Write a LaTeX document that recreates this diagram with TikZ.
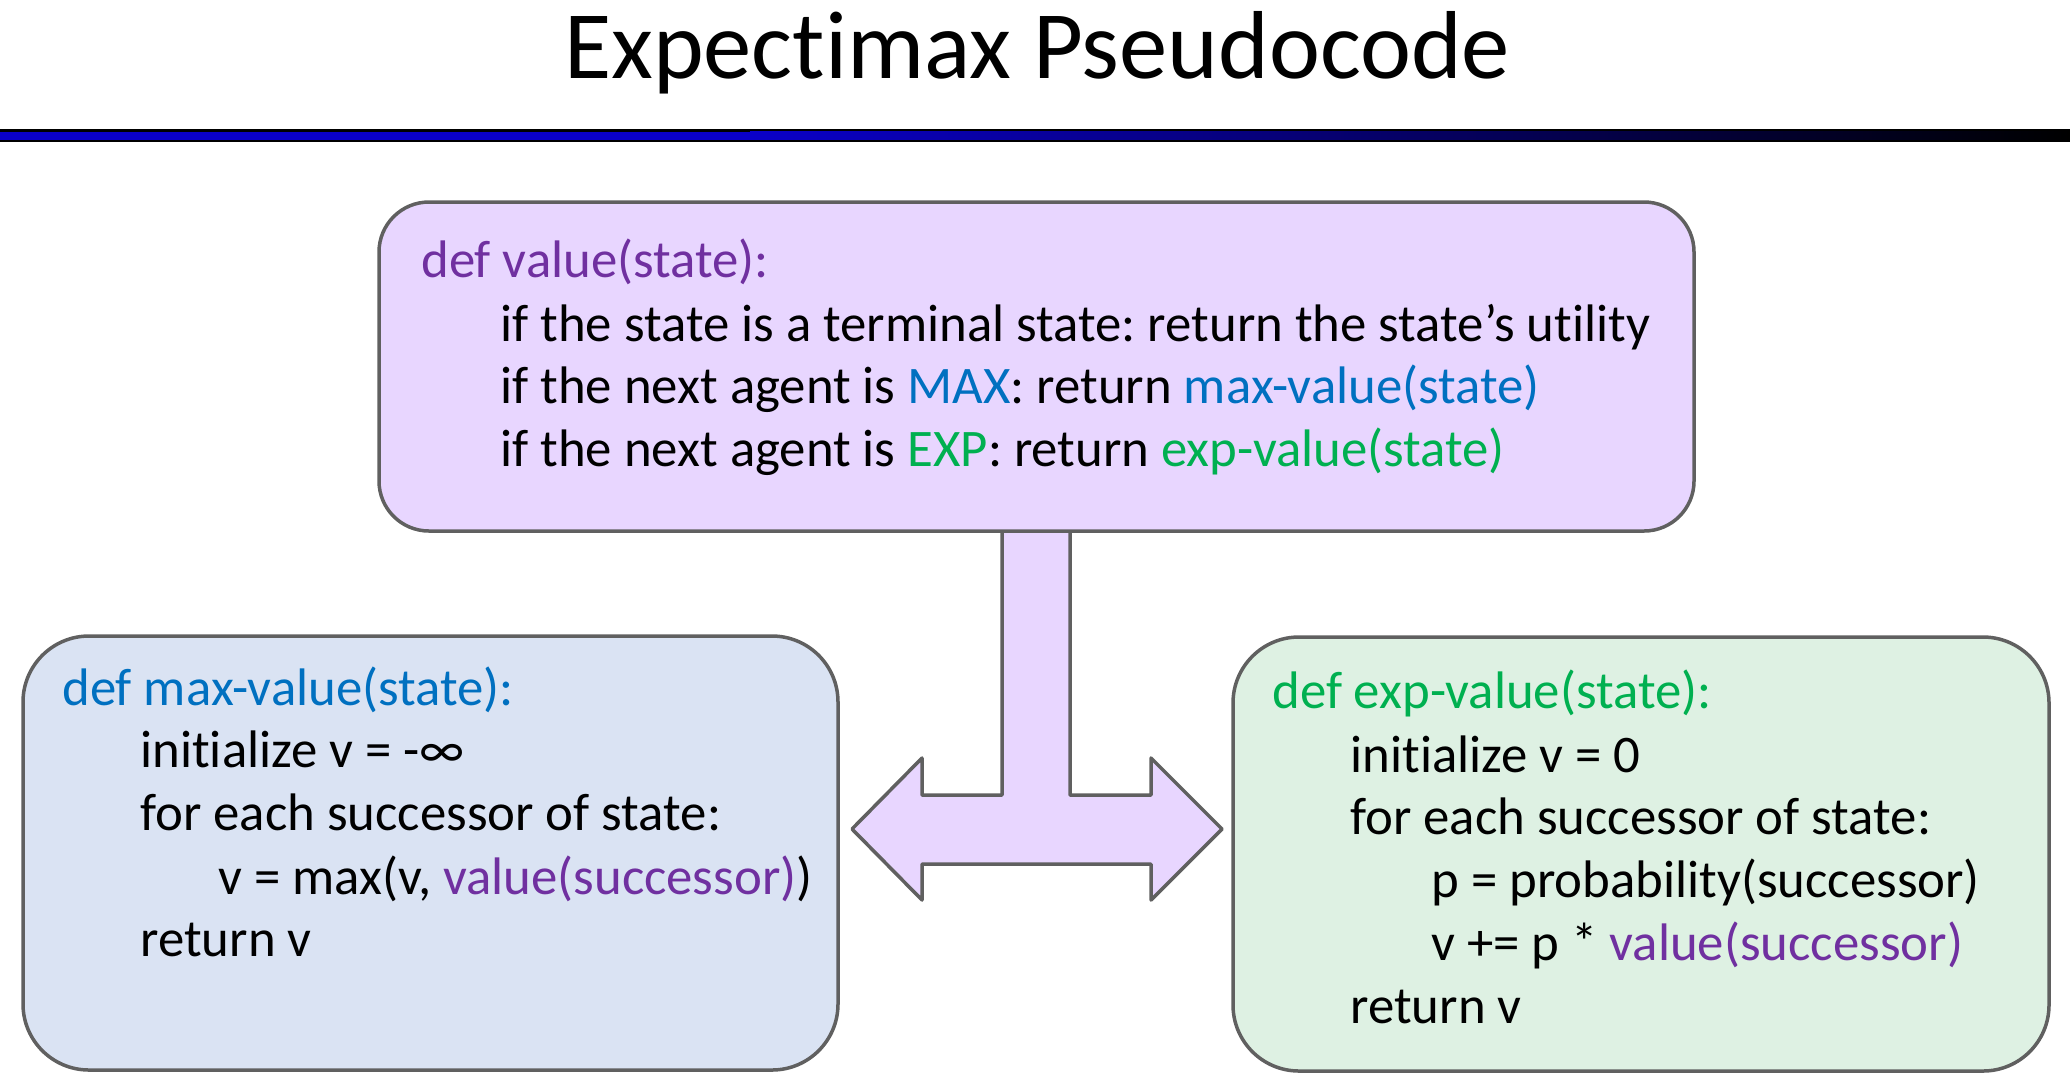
\documentclass[tikz,border=0pt]{standalone}
\usepackage{fontspec}
\setmainfont{Carlito}[Ligatures={NoCommon,NoRequired,NoContextual}]
\definecolor{boxgray}{RGB}{96,96,96}
\definecolor{lavender}{RGB}{232,214,255}
\definecolor{lightblue}{RGB}{218,227,243}
\definecolor{lightgreen}{RGB}{222,241,227}
\definecolor{cpurple}{RGB}{112,48,160}
\definecolor{cblue}{RGB}{0,112,192}
\definecolor{cgreen}{RGB}{0,176,80}
\definecolor{barblue}{RGB}{10,0,200}
\frenchspacing
\begin{document}
\begin{tikzpicture}[x=0.5pt,y=-0.5pt,
  box/.style={draw=boxgray, line width=1.75pt, inner sep=0pt},
  codeline/.style={anchor=base west, inner sep=0pt, font=\fontsize{26.4}{32}\selectfont},
  titletext/.style={anchor=base, inner sep=0pt, font=\fontsize{48.3}{58}\selectfont}]
\useasboundingbox (0,0) rectangle (2070,1084);
% title
\node[titletext] (title) at (1037,78) {Expectimax Pseudocode};
% bar
\fill[black] (0,129) rectangle (2070,142);
\fill[barblue] (0,131.5) rectangle (751,139.5);
\shade[left color=barblue, right color=black] (750,131.5) rectangle (2070,139.5);
% arrow shape
\draw[fill=lavender, draw=boxgray, line width=1.75pt, line join=round]
  (1002,520) -- (1002,795) -- (922,795) -- (922,758) -- (852,829) -- (922,900) -- (922,864)
  -- (1151,864) -- (1151,900) -- (1222,829) -- (1151,758) -- (1151,795) -- (1070,795) -- (1070,520) -- cycle;
% boxes
\node[box, fill=lavender, rounded corners=25pt, minimum width=657.5pt, minimum height=164.5pt] (top) at (1036.5,366.5) {};
\node[box, fill=lightblue, rounded corners=33pt, minimum width=407.5pt, minimum height=217pt] (left) at (430.5,853) {};
\node[box, fill=lightgreen, rounded corners=33pt, minimum width=408pt, minimum height=217pt] (right) at (1641,854) {};
% top box text
\node[codeline, text=cpurple] (t1) at (421,277) {def value(state):};
\node[codeline] (t2) at (500,341) {if the state is a terminal state: return the state’s utility};
\node[codeline] (t3) at (500,403) {if the next agent is \textcolor{cblue}{MAX}: return \textcolor{cblue}{max-value(state)}};
\node[codeline] (t4) at (500,466) {if the next agent is \textcolor{cgreen}{EXP}: return \textcolor{cgreen}{exp-value(state)}};
% left box text
\node[codeline, text=cblue] (l1) at (62,705) {def max-value(state):};
\node[codeline] (l2) at (140,767) {initialize v = -∞};
\node[codeline] (l3) at (140,830) {for each successor of state:};
\node[codeline] (l4) at (218,894) {v = max(v, \textcolor{cpurple}{value(successor)})};
\node[codeline] (l5) at (140,956) {return v};
% right box text
\node[codeline, text=cgreen] (r1) at (1272,708) {def exp-value(state):};
\node[codeline] (r2) at (1350,772) {initialize v = 0};
\node[codeline] (r3) at (1350,834) {for each successor of state:};
\node[codeline] (r4) at (1431,897) {p = probability(successor)};
\node[codeline] (r5) at (1431,960) {v += p * \textcolor{cpurple}{value(successor)}};
\node[codeline] (r6) at (1350,1023) {return v};
\end{tikzpicture}
\end{document}
